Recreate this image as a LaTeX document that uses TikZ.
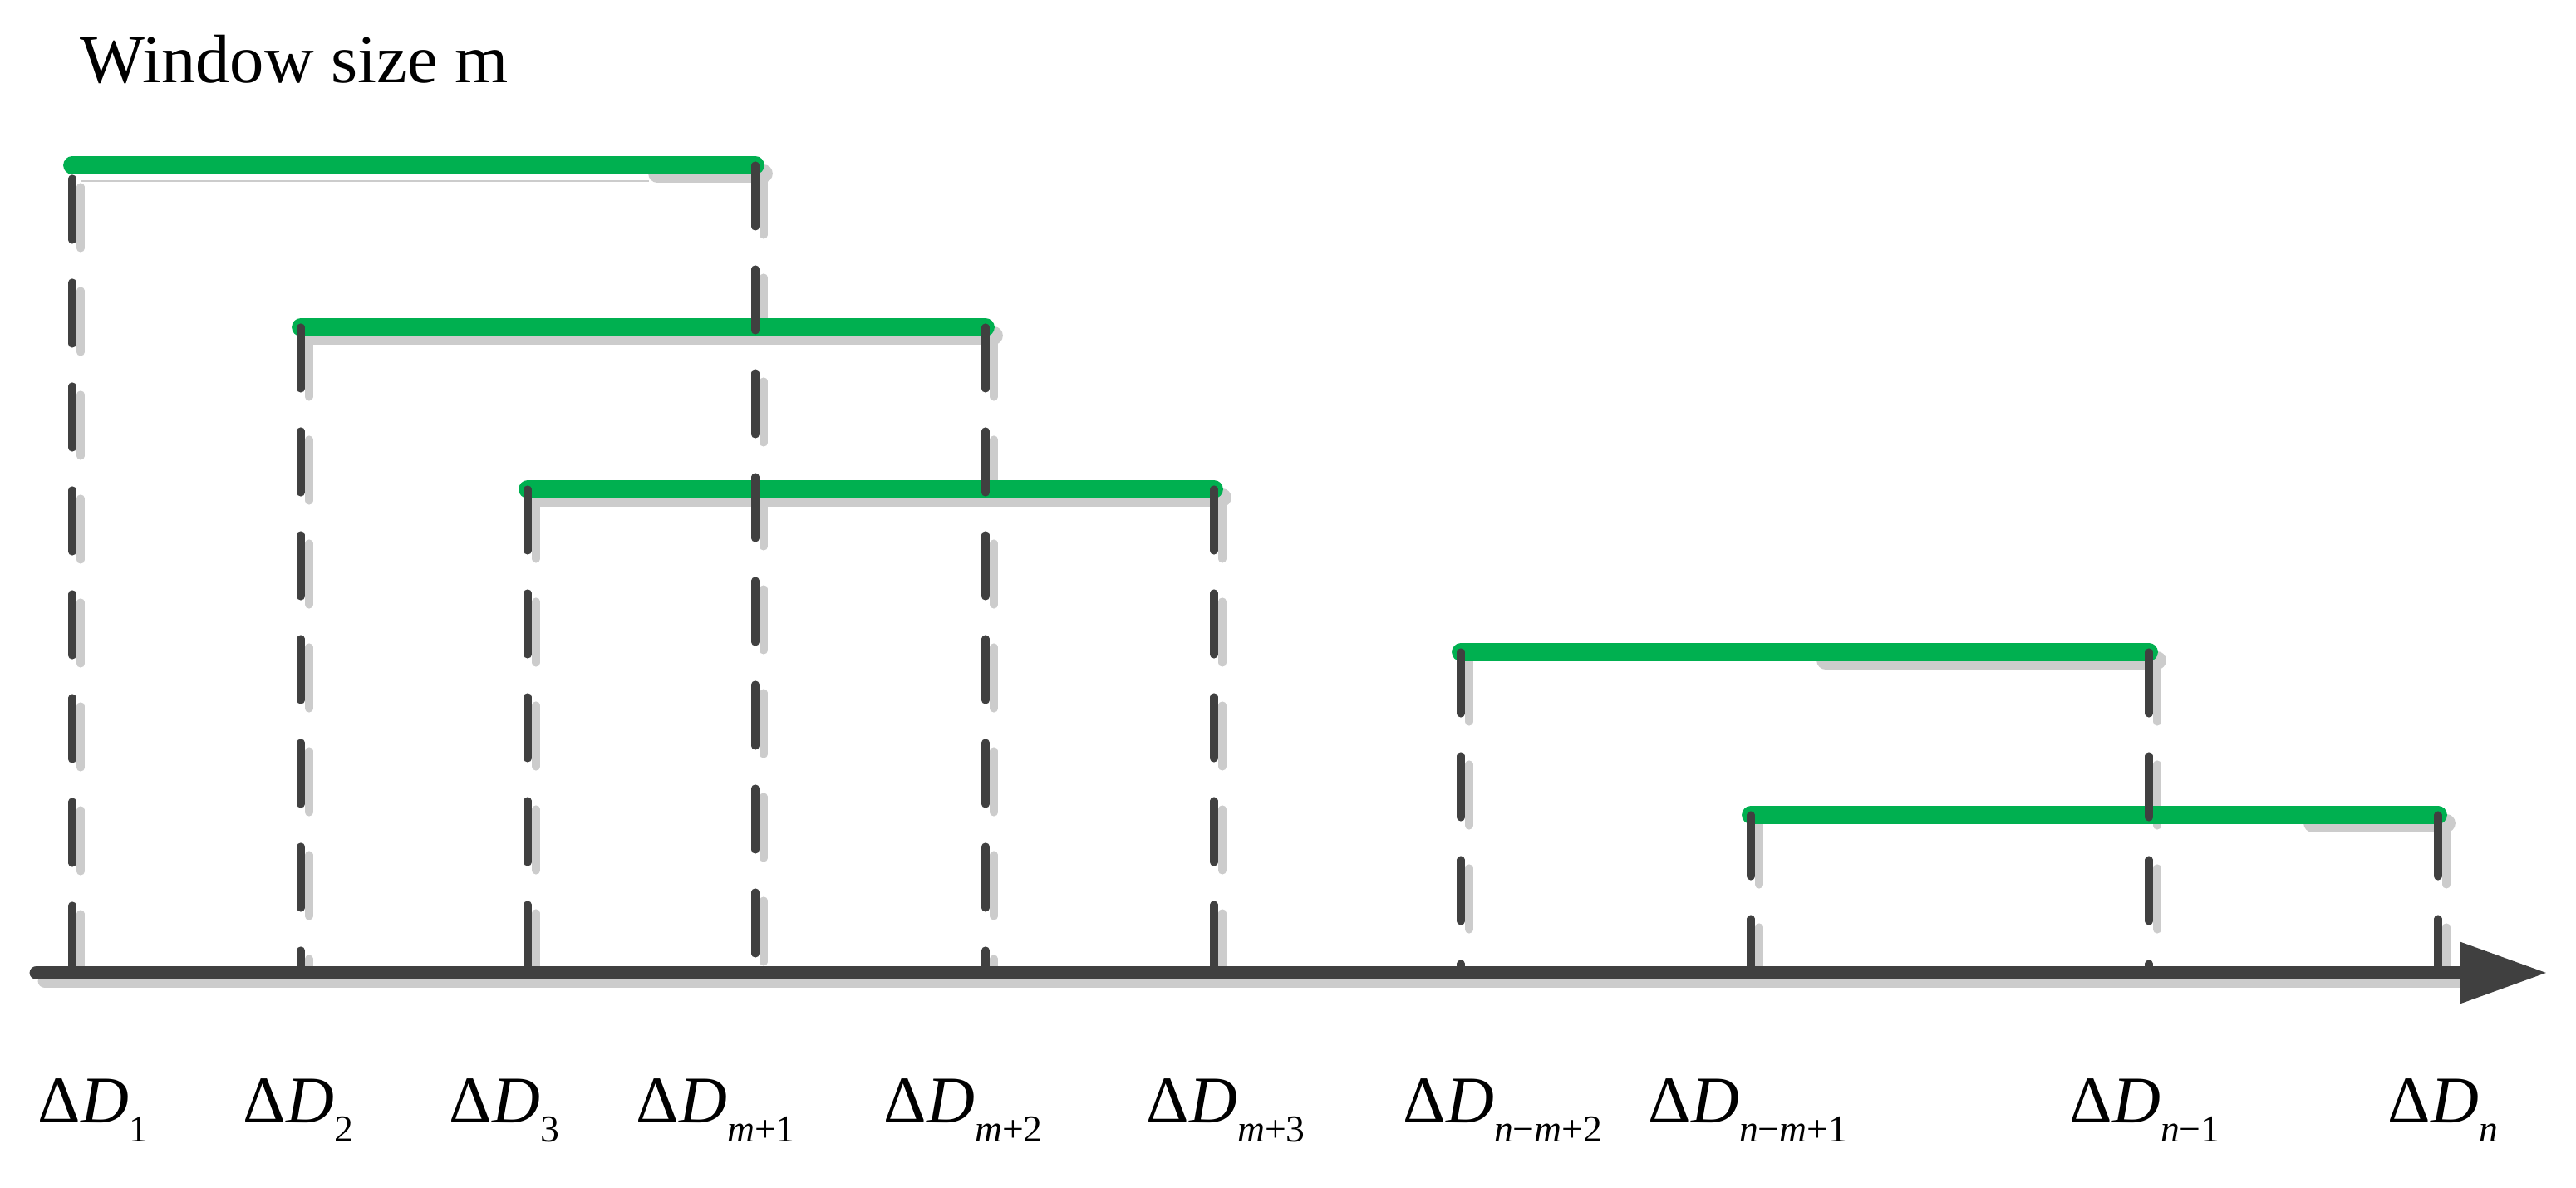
\documentclass[tikz,border=0pt]{standalone}
\usepackage{fontspec}
\setmainfont{Liberation Serif}
\usetikzlibrary{arrows.meta}

\definecolor{wgreen}{HTML}{00B050}
\definecolor{dgray}{HTML}{404040}
\definecolor{sgray}{HTML}{CCCCCC}

% label under the axis, Delta D with a lowered subscript
\newcommand{\dlab}[1]{Δ\textit{D}\raisebox{-0.23cm}{\fontsize{13pt}{13pt}\selectfont #1}}

\begin{document}
\begin{tikzpicture}[
    bar/.style={wgreen, line width=6.2pt, line cap=round},
    tick/.style={dgray, line width=2.6pt, line cap=round, dash pattern=on 0.74cm off 0.51cm},
    shd/.style={sgray, transform canvas={xshift=0.1cm, yshift=-0.1cm}},
    lab/.style={anchor=base west, inner sep=0pt, font=\fontsize{22.8pt}{24pt}\selectfont}]
    \useasboundingbox (0,0) rectangle (31,14.3);
    % axis
    \coordinate (ax0) at (0.44,2.59);
    \coordinate (axb) at (29.52,2.59);
    \coordinate (ax1) at (30.66,2.59);
    \coordinate (t1) at (0.87,2.59);
    \coordinate (t2) at (3.62,2.59);
    \coordinate (t3) at (6.35,2.59);
    \coordinate (t4) at (9.09,2.59);
    \coordinate (t5) at (11.86,2.59);
    \coordinate (t6) at (14.61,2.59);
    \coordinate (t7) at (17.58,2.59);
    \coordinate (t8) at (21.07,2.59);
    \coordinate (t9) at (25.86,2.59);
    \coordinate (t10) at (29.34,2.59);
    % windows
    \coordinate (w1a) at (0.87,12.31);
    \coordinate (w1c) at (0.87,12.15);
    \coordinate (w1s) at (7.81,12.31);
    \coordinate (w1b) at (9.09,12.31);
    \coordinate (w2a) at (3.62,10.36);
    \coordinate (w2b) at (11.86,10.36);
    \coordinate (w3a) at (6.35,8.41);
    \coordinate (w3b) at (14.61,8.41);
    \coordinate (w4a) at (17.58,6.45);
    \coordinate (w4s) at (21.87,6.45);
    \coordinate (w4b) at (25.86,6.45);
    \coordinate (w5a) at (21.07,4.49);
    \coordinate (w5s) at (27.73,4.49);
    \coordinate (w5b) at (29.34,4.49);
    \coordinate (g1) at (0.97,12.12);
    \coordinate (g2) at (7.81,12.12);

    % shadows
    \draw[sgray, line width=4.8pt, line cap=round, shd] (ax0) -- (axb);
    \draw[bar, shd] (w1s) -- (w1b);
    \draw[bar, shd] (w2a) -- (w2b);
    \draw[bar, shd] (w3a) -- (w3b);
    \draw[bar, shd] (w4s) -- (w4b);
    \draw[bar, shd] (w5s) -- (w5b);
    \draw[sgray, line width=0.8pt] (g1) -- (g2);
    \foreach \u/\v in {w1c/t1, w2a/t2, w3a/t3, w1b/t4, w2b/t5, w3b/t6, w4a/t7, w5a/t8, w4b/t9, w5b/t10}
        \draw[tick, shd] (\u) -- (\v);

    % time axis
    \draw[dgray, line width=4.8pt, line cap=round, -{Triangle[length=1.06cm, width=0.7cm]}] (ax0) -- (ax1);

    % sliding windows
    \draw[bar] (w1a) -- (w1b);
    \draw[bar] (w2a) -- (w2b);
    \draw[bar] (w3a) -- (w3b);
    \draw[bar] (w4a) -- (w4b);
    \draw[bar] (w5a) -- (w5b);

    % dashed drops to the axis
    \foreach \u/\v in {w1c/t1, w2a/t2, w3a/t3, w1b/t4, w2b/t5, w3b/t6, w4a/t7, w5a/t8, w4b/t9, w5b/t10}
        \draw[tick] (\u) -- (\v);

    % texts
    \node[anchor=base west, inner sep=0pt, font=\fontsize{23.5pt}{26pt}\selectfont] (title) at (0.96,13.30) {Window size m};
    \node[lab] (d1) at (0.45,0.78) {\dlab{1}};
    \node[lab] (d2) at (2.92,0.78) {\dlab{2}};
    \node[lab] (d3) at (5.40,0.78) {\dlab{3}};
    \node[lab] (dm1) at (7.65,0.78) {\dlab{\textit{m}+1}};
    \node[lab] (dm2) at (10.63,0.78) {\dlab{\textit{m}+2}};
    \node[lab] (dm3) at (13.79,0.78) {\dlab{\textit{m}+3}};
    \node[lab] (dnm2) at (16.88,0.78) {\dlab{\textit{n}−\textit{m}+2}};
    \node[lab] (dnm1) at (19.83,0.78) {\dlab{\textit{n}−\textit{m}+1}};
    \node[lab] (dn1) at (24.90,0.78) {\dlab{\textit{n}−1}};
    \node[lab] (dn) at (28.73,0.78) {\dlab{\textit{n}}};
\end{tikzpicture}
\end{document}
